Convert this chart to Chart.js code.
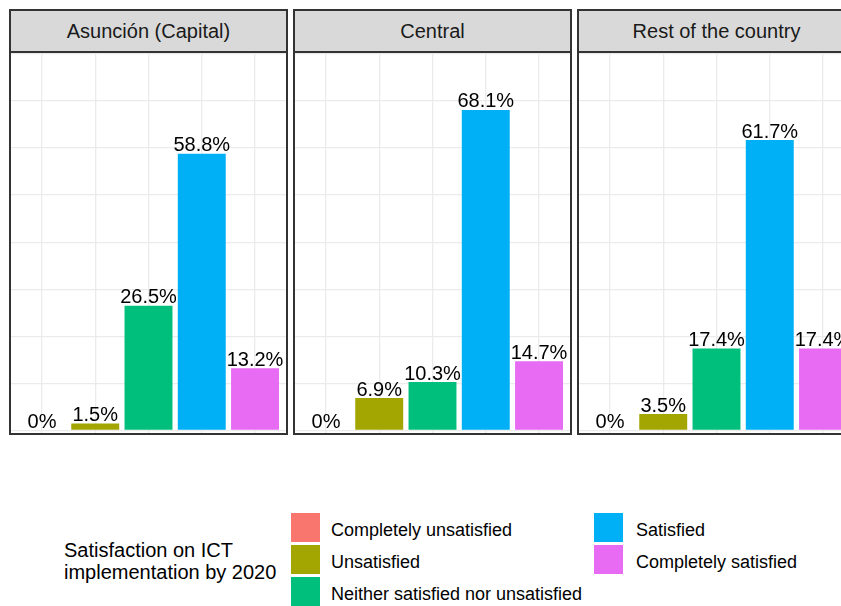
<!DOCTYPE html>
<html>
<head>
<meta charset="utf-8">
<script src="https://cdn.jsdelivr.net/npm/chart.js@4/dist/chart.umd.min.js"></script>
<style>
  html, body { margin:0; padding:0; background:#fff; overflow:hidden; }
  #wrap { position:relative; width:841px; height:606px; overflow:hidden; background:#fff;
          font-family:'Liberation Sans', Arial, sans-serif; }
  .strip { position:absolute; box-sizing:border-box; background:#d9d9d9; border:2px solid #333;
           color:#1a1a1a; font-size:20px; text-align:center; line-height:40px; }
  .frame { position:absolute; box-sizing:border-box; border:2px solid #333; pointer-events:none; }
  canvas.panel { position:absolute; }
  .key { position:absolute; width:29px; height:29px; }
  .lab { position:absolute; font-size:18px; color:#000; height:22px; line-height:22px; white-space:nowrap; }
  .ltitle { position:absolute; font-size:20px; color:#000; line-height:22px; white-space:nowrap; }
</style>
</head>
<body>
<div id="wrap"></div>
<script>
// ---- data ----
const facets = ["Asunción (Capital)", "Central", "Rest of the country"];
const categories = ["Completely unsatisfied", "Unsatisfied", "Neither satisfied nor unsatisfied", "Satisfied", "Completely satisfied"];
const asuncionValues = [0, 1.5, 26.5, 58.8, 13.2];
const centralValues = [0, 6.9, 10.3, 68.1, 14.7];
const restValues = [0, 3.5, 17.4, 61.7, 17.4];
const yTicks = [0, 10, 20, 30, 40, 50, 60, 70, 80];
const legendTitle = ["Satisfaction on ICT", "implementation by 2020"];
const colors = ["#F8766D", "#A3A500", "#00BF7D", "#00B0F6", "#E76BF3"];

const seriesByFacet = [asuncionValues, centralValues, restValues];
const wrap = document.getElementById('wrap');
const panelLefts = [10, 294, 578];
const panelW = 277, stripTop = 10, stripH = 42, plotTop = 52, plotH = 382;

const labelPlugin = {
  id: 'barLabels',
  afterDatasetsDraw(chart) {
    const ctx = chart.ctx;
    const meta = chart.getDatasetMeta(0);
    const vals = chart.data.datasets[0].data;
    ctx.save();
    ctx.font = "20px 'Liberation Sans', Arial, sans-serif";
    ctx.fillStyle = '#000';
    ctx.textAlign = 'center';
    ctx.textBaseline = 'alphabetic';
    meta.data.forEach((el, i) => {
      const v = vals[i].y;
      const txt = (v === 0 ? '0' : v.toFixed(1)) + '%';
      ctx.fillText(txt, el.x, el.y - 2.5);
    });
    ctx.restore();
  }
};

facets.forEach((name, f) => {
  const L = panelLefts[f];
  const strip = document.createElement('div');
  strip.className = 'strip';
  strip.style.left = (L - 1) + 'px';
  strip.style.top = (stripTop - 1) + 'px';
  strip.style.width = (panelW + 2) + 'px';
  strip.style.height = (stripH + 2) + 'px';
  strip.textContent = name;
  wrap.appendChild(strip);

  const cv = document.createElement('canvas');
  cv.className = 'panel';
  cv.width = panelW; cv.height = plotH;
  cv.style.left = L + 'px'; cv.style.top = plotTop + 'px';
  cv.style.width = panelW + 'px'; cv.style.height = plotH + 'px';
  wrap.appendChild(cv);

  const frame = document.createElement('div');
  frame.className = 'frame';
  frame.style.left = (L - 1) + 'px';
  frame.style.top = (plotTop - 1) + 'px';
  frame.style.width = (panelW + 2) + 'px';
  frame.style.height = (plotH + 2) + 'px';
  wrap.appendChild(frame);

  const vals = seriesByFacet[f];
  new Chart(cv, {
    type: 'bar',
    data: {
      datasets: [{
        data: vals.map((v, i) => ({ x: i, y: v })),
        backgroundColor: colors,
        borderWidth: 0,
        barPercentage: 0.9,
        categoryPercentage: 1.0
      }]
    },
    options: {
      responsive: false,
      animation: false,
      events: [],
      layout: { padding: 0 },
      plugins: { legend: { display: false }, tooltip: { enabled: false } },
      scales: {
        x: {
          type: 'linear', min: -0.6, max: 4.6, offset: false,
          afterBuildTicks: s => { s.ticks = categories.map((c, i) => ({ value: i })); },
          grid: { color: '#ebebeb', lineWidth: 1.3, drawTicks: false, offset: false },
          border: { display: false },
          ticks: { display: false }
        },
        y: {
          type: 'linear', min: -0.74, max: 80.4,
          afterBuildTicks: s => { s.ticks = yTicks.map(v => ({ value: v })); },
          grid: { color: '#ebebeb', lineWidth: 1.3, drawTicks: false },
          border: { display: false },
          ticks: { display: false }
        }
      }
    },
    plugins: [labelPlugin]
  });
});

// ---- legend ----
const lt = document.createElement('div');
lt.className = 'ltitle';
lt.style.left = '64px'; lt.style.top = '539px';
lt.innerHTML = legendTitle.join('<br>');
wrap.appendChild(lt);

const keyPos = [
  { kx: 291, lx: 331, y: 513 },
  { kx: 291, lx: 331, y: 545 },
  { kx: 291, lx: 331, y: 577 },
  { kx: 594, lx: 636, y: 513 },
  { kx: 594, lx: 636, y: 545 }
];
categories.forEach((c, i) => {
  const p = keyPos[i];
  const k = document.createElement('div');
  k.className = 'key';
  k.style.left = p.kx + 'px'; k.style.top = p.y + 'px';
  k.style.background = colors[i];
  wrap.appendChild(k);
  const t = document.createElement('div');
  t.className = 'lab';
  t.style.left = p.lx + 'px'; t.style.top = (p.y + 6) + 'px';
  t.textContent = c;
  wrap.appendChild(t);
});
</script>
</body>
</html>
